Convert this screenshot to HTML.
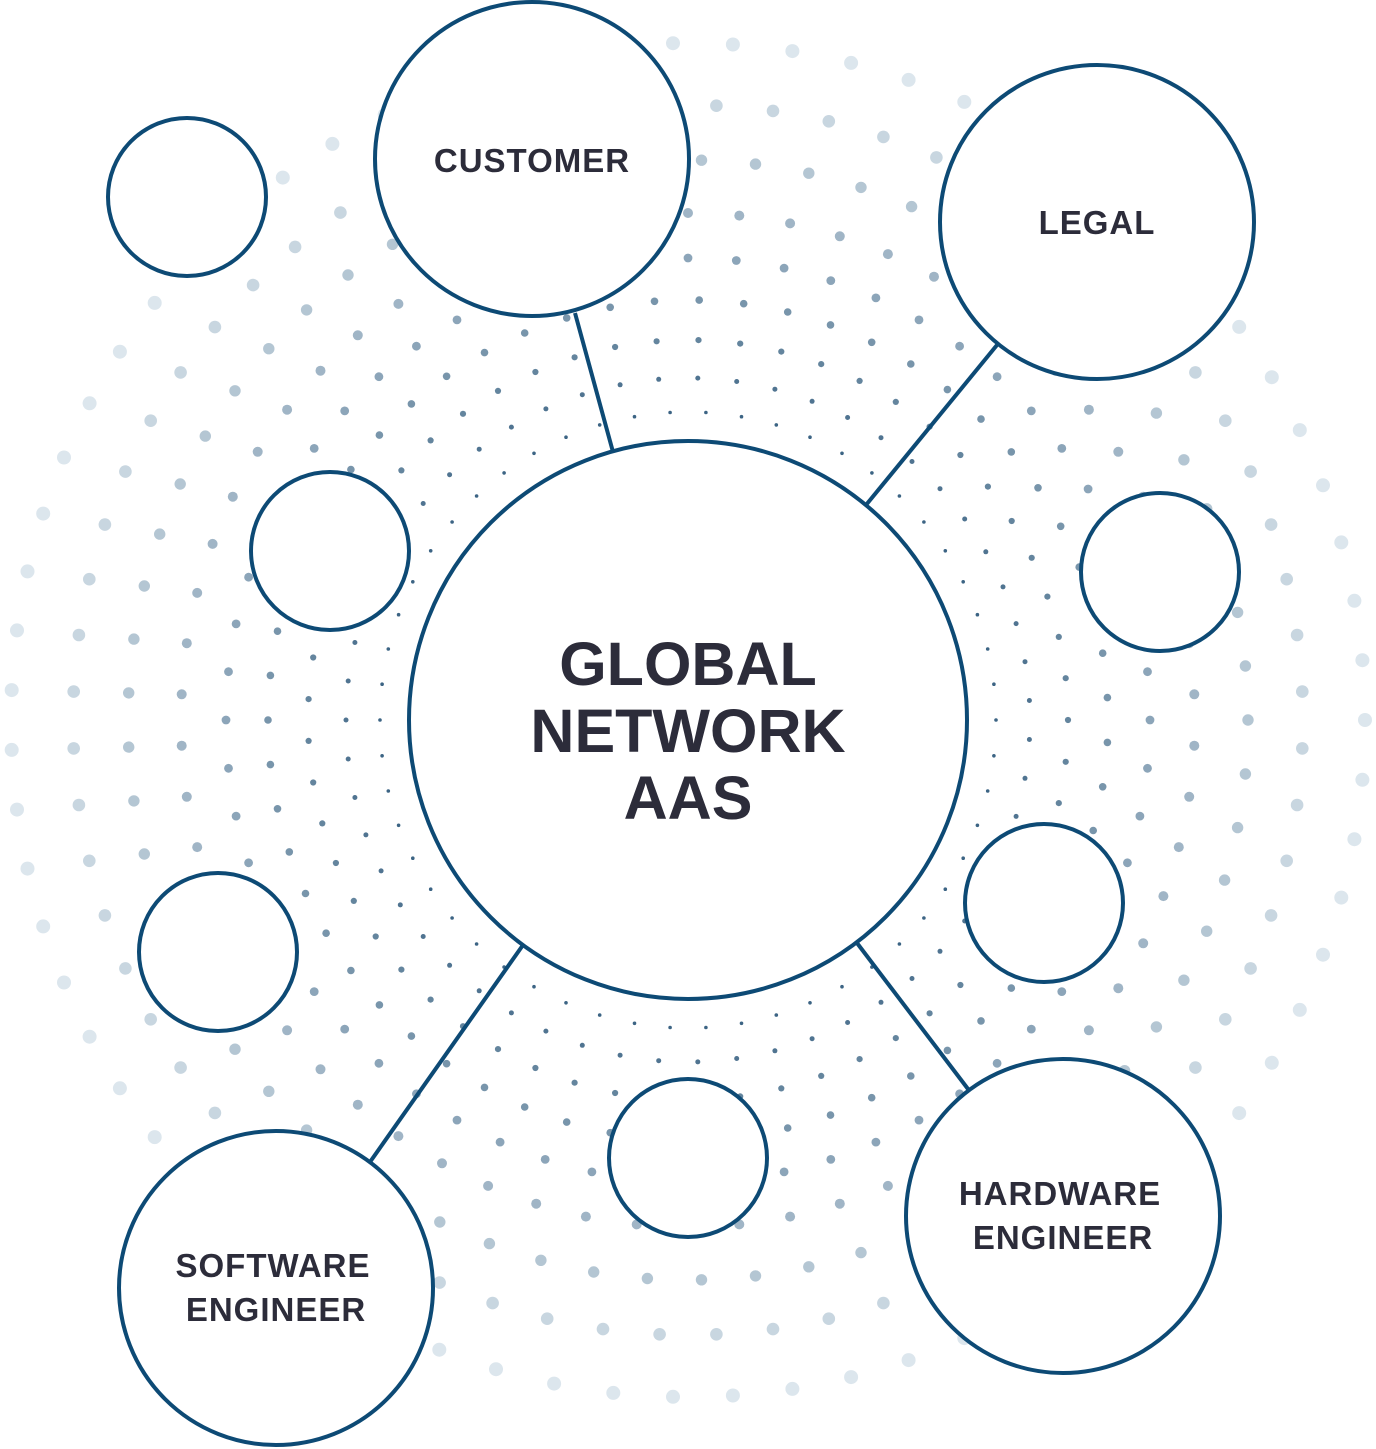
<!DOCTYPE html>
<html><head><meta charset="utf-8"><style>
html,body{margin:0;padding:0;background:#fff;}
svg{display:block}
text{font-family:"Liberation Sans",sans-serif;font-weight:bold;fill:#2c2c3a;text-anchor:middle}
</style></head><body>
<svg id="s" width="1376" height="1449" viewBox="0 0 1376 1449" xmlns="http://www.w3.org/2000/svg">
<g id="dots"></g>
<g stroke="#0d4a75" stroke-width="4" fill="none">
<line x1="575" y1="313" x2="613" y2="452"/>
<line x1="997" y1="345" x2="866" y2="505"/>
<line x1="370" y1="1162" x2="523" y2="945"/>
<line x1="968" y1="1089" x2="857" y2="943"/>
</g>
<g stroke="#0d4a75" stroke-width="4" fill="#fff">
<circle cx="688" cy="720" r="279"/>
<circle cx="532" cy="159" r="157"/>
<circle cx="1097" cy="222" r="157"/>
<circle cx="1063" cy="1216" r="157"/>
<circle cx="276" cy="1288" r="157"/>
<circle cx="187" cy="197" r="79"/>
<circle cx="330" cy="551" r="79"/>
<circle cx="1160" cy="572" r="79"/>
<circle cx="1044" cy="903" r="79"/>
<circle cx="218" cy="952" r="79"/>
<circle cx="688" cy="1158" r="79"/>
</g>
<text x="688" y="685" font-size="61">GLOBAL</text>
<text x="688" y="752" font-size="61">NETWORK</text>
<text x="688" y="819" font-size="61">AAS</text>
<text x="532" y="172" font-size="33" letter-spacing="1">CUSTOMER</text>
<text x="1097" y="234" font-size="33" letter-spacing="1">LEGAL</text>
<text x="1060" y="1205" font-size="33" letter-spacing="1">HARDWARE</text>
<text x="1063" y="1249" font-size="33" letter-spacing="1">ENGINEER</text>
<text x="273" y="1277" font-size="33" letter-spacing="1">SOFTWARE</text>
<text x="276" y="1321" font-size="33" letter-spacing="1">ENGINEER</text>
</svg>
<script>
(function(){
var g=document.getElementById('dots');
var radii=[308,342,380,420,462,507,560,615,677];
var out='';
for(var i=0;i<radii.length;i++){
 var r=radii[i], t=i/(radii.length-1);
 var spacing=36+t*24;
 var n=Math.round(2*Math.PI*r/spacing);
 var dr=1.8+t*5.2;
 var c0=[60,100,132], c1=[220,230,237];
 var col='rgb('+Math.round(c0[0]+(c1[0]-c0[0])*t)+','+Math.round(c0[1]+(c1[1]-c0[1])*t)+','+Math.round(c0[2]+(c1[2]-c0[2])*t)+')';
 var off=(i%2)*0.5;
 for(var k=0;k<n;k++){
  var a=(k+off)/n*2*Math.PI;
  var x=688+r*Math.cos(a), y=720+r*Math.sin(a);
  if(x<-10||x>1386||y<-10||y>1459)continue;
  out+='<circle cx="'+x.toFixed(1)+'" cy="'+y.toFixed(1)+'" r="'+dr.toFixed(1)+'" fill="'+col+'"/>';
 }
}
g.innerHTML=out;
})();
</script>
</body></html>
